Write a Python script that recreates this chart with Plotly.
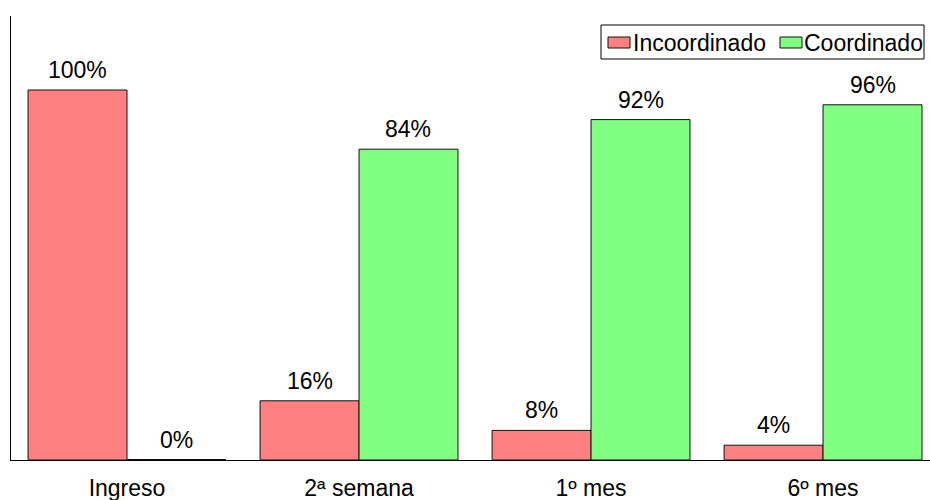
import plotly.graph_objects as go

# Evolution of coordination status over follow-up
categories = ["Ingreso", "2ª semana", "1º mes", "6º mes"]
incoordinado = [100, 16, 8, 4]
coordinado = [0, 84, 92, 96]
series_names = ["Incoordinado", "Coordinado"]

RED = "#FF8080"
GREEN = "#80FF80"
FONT = "Liberation Sans, Arial, sans-serif"
FS = 23
BARGAP = 0.147

fig = go.Figure()
fig.add_trace(go.Bar(x=categories, y=incoordinado, name=series_names[0],
                     marker=dict(color=RED, line=dict(color="#111", width=1))))
fig.add_trace(go.Bar(x=categories, y=coordinado, name=series_names[1],
                     marker=dict(color=GREEN, line=dict(color="#111", width=1))))

# value labels above each bar; zero-height bars show as an outline on the baseline
half = (1 - BARGAP) / 4
annotations = []
shapes = []
for i, (a, b) in enumerate(zip(incoordinado, coordinado)):
    for off, v in ((-half, a), (half, b)):
        annotations.append(dict(x=i + off, y=v, xref="x", yref="y", text=f"{v}%",
                                showarrow=False, yanchor="bottom", yshift=5,
                                font=dict(family=FONT, size=FS, color="#000")))
        if v == 0:
            shapes.append(dict(type="line", xref="x", yref="y", x0=i + off - half,
                               x1=i + off + half, y0=v, y1=v,
                               line=dict(color="#111", width=2)))

# legend box drawn in pixel-equivalent paper coordinates
W, H = 930, 500
L, R, T, B = 11, 0, 16, 40
pw, ph = W - L - R, H - T - B
def px(x):
    return (x - L) / pw
def py(y):
    return (H - B - y) / ph

shapes += [
    dict(type="rect", xref="paper", yref="paper", x0=px(601), x1=px(924), y0=py(59), y1=py(25),
         line=dict(color="#000", width=1), fillcolor="white"),
    dict(type="rect", xref="paper", yref="paper", x0=px(608), x1=px(630), y0=py(48), y1=py(37),
         line=dict(color="#111", width=1), fillcolor=RED),
    dict(type="rect", xref="paper", yref="paper", x0=px(780), x1=px(802), y0=py(48), y1=py(37),
         line=dict(color="#111", width=1), fillcolor=GREEN),
]
for xs, name in ((631, series_names[0]), (802, series_names[1])):
    annotations.append(dict(x=px(xs), y=py(43), xref="paper", yref="paper", text=name,
                            showarrow=False, xanchor="left", yanchor="middle",
                            font=dict(family=FONT, size=FS, color="#000")))

fig.update_layout(
    width=W, height=H,
    margin=dict(l=L, r=R, t=T, b=B),
    paper_bgcolor="white", plot_bgcolor="white",
    barmode="group", bargap=BARGAP, bargroupgap=0,
    showlegend=False,
    annotations=annotations, shapes=shapes,
    font=dict(family=FONT, size=FS, color="#000"),
)
fig.update_xaxes(type="category", range=[-0.5, 3.461], showline=True, linecolor="#000",
                 linewidth=1, ticks="", showgrid=False, ticklabelstandoff=7,
                 tickfont=dict(family=FONT, size=FS, color="#000"))
fig.update_yaxes(range=[0, 120], showline=True, linecolor="#000", linewidth=1,
                 showticklabels=False, ticks="", showgrid=False, zeroline=False)

fig.write_html("out.html")
